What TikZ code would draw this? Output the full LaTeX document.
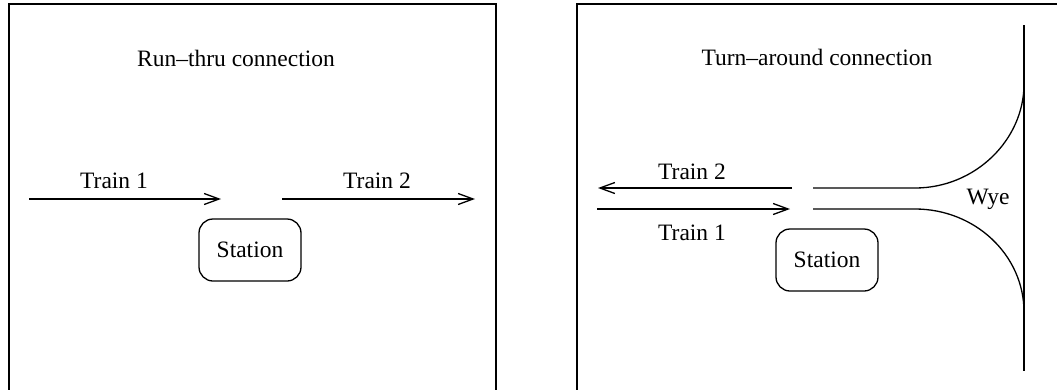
\documentclass[tikz,border=0pt]{standalone}
\usepackage{fontspec}
\setmainfont{Liberation Serif}
\usetikzlibrary{arrows.meta}
\begin{document}
\begin{tikzpicture}[x=1pt,y=-1pt,
  frame/.style={line width=1.8pt},
  track/.style={line width=1.3pt},
  move/.style={track,-{Straight Barb[length=15pt,width=11pt,line width=1.3pt]}},
  lbl/.style={font=\fontsize{23.5}{28}\selectfont,inner sep=0pt},
  stn/.style={draw,line width=1.3pt,rounded corners=14pt,minimum width=102pt,minimum height=62pt,font=\fontsize{23.5}{28}\selectfont}]
\useasboundingbox (0,0) rectangle (1057,389);
\clip (0,0) rectangle (1057,389);

% panel frames (bottom and right sides run past the page)
\draw[frame] (9,420) -- (9,4) -- (496,4) -- (496,420);
\draw[frame] (577,420) -- (577,4) -- (1080,4);

% ---- run-thru connection ----
\node[lbl] (t1) at (236,58) {Run--thru connection};
\coordinate (a1s) at (29,199);
\coordinate (a1e) at (221,199);
\coordinate (a2s) at (282,199);
\coordinate (a2e) at (475,199);
\draw[move] (a1s) -- (a1e);
\draw[move] (a2s) -- (a2e);
\node[lbl] (l1) at (114,181) {Train 1};
\node[lbl] (l2) at (377,181) {Train 2};
\node[stn] (s1) at (250,250) {Station};

% ---- turn-around connection ----
\node[lbl] (t2) at (817,57) {Turn--around connection};
\coordinate (b2s) at (792,188);
\coordinate (b2e) at (598,188);
\coordinate (b1s) at (597,209);
\coordinate (b1e) at (790,209);
\draw[move] (b2s) -- (b2e);
\draw[move] (b1s) -- (b1e);
\node[lbl] (m2) at (692,172) {Train 2};
\node[lbl] (m1) at (692,233) {Train 1};
\node[stn] (s2) at (827,260) {Station};

% wye tracks
\coordinate (u0) at (813,188);
\coordinate (u1) at (915,188);
\coordinate (u2) at (1024,84);
\coordinate (d0) at (813,209);
\coordinate (d1) at (915,209);
\coordinate (d2) at (1024,312);
\coordinate (vt) at (1024,25);
\coordinate (vb) at (1024,371);
\draw[track] (u0) -- (u1) .. controls (975,188) and (1024,140) .. (u2);
\draw[track] (d0) -- (d1) .. controls (975,209) and (1024,255) .. (d2);
\draw[track] (vt) -- (vb);
\node[lbl] (w) at (988,199) {Wye};
\end{tikzpicture}
\end{document}
